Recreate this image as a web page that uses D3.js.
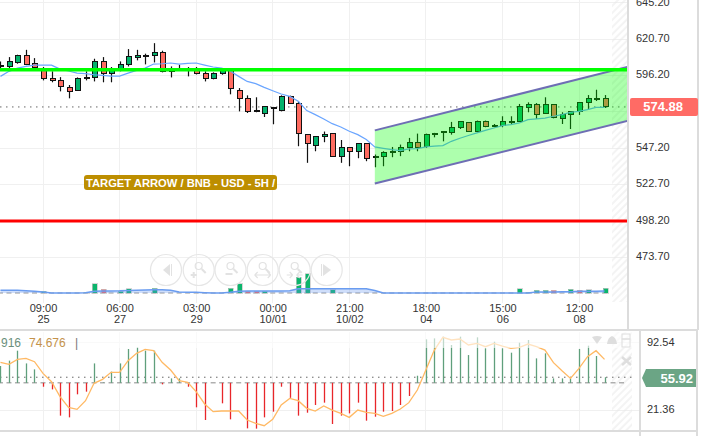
<!DOCTYPE html>
<html>
<head>
<meta charset="utf-8">
<script src="https://cdn.jsdelivr.net/npm/d3@7"></script>
<style>
html, body { margin: 0; padding: 0; background: #fff; }
svg { display: block; font-family: "Liberation Sans", Arial, sans-serif; }
.axis path, .axis line { display: none; }
.axis text { font-family: "Liberation Sans", Arial, sans-serif; font-size: 11px; fill: #333; }
</style>
</head>
<body>
<div id="chart"></div>
<script>
// 5h candles, index 0 is 09:00 on the 25th
const candleIndex = d3.range(-5, 67);
const opens = [602.2,602.2,604.9,609.4,604.5,600.9,594.4,593.0,588.3,586.1,594.2,595.0,605.8,597.1,600.9,603.6,608.5,609.2,609.6,611.9,598.9,600.7,600.7,600.9,597.7,594.2,597.1,599.5,586.1,580.9,571.5,570.8,574.6,572.8,582.0,577.5,556.0,549.0,554.7,556.7,541.7,547.3,544.6,549.9,540.8,541.2,543.9,544.6,547.3,550.6,547.9,556.5,557.4,557.8,561.2,564.1,558.5,565.4,562.1,562.5,565.4,564.8,574.6,576.2,570.6,576.2,567.2,569.5,571.9,578.2,580.7,580.9];
const closes = [602.7,605.8,609.4,603.6,601.8,594.2,592.8,588.8,585.4,594.4,595.0,605.8,597.1,600.9,603.8,609.2,609.9,609.9,611.9,598.9,599.5,601.1,601.1,597.5,594.2,597.1,599.5,587.4,580.7,571.9,572.4,574.9,573.5,581.8,577.3,556.7,549.9,554.7,556.0,541.7,547.3,544.6,549.9,540.3,541.2,543.9,545.0,547.3,550.6,547.7,556.5,557.1,558.0,561.2,564.8,558.0,565.4,561.8,562.7,565.4,564.1,574.9,576.4,569.9,576.4,568.1,569.5,571.5,578.2,580.9,580.9,574.88];
const highs = [605.6,608.5,610.1,613.4,607.8,601.8,598.9,595.0,589.7,594.8,598.9,607.4,608.5,601.8,605.6,613.9,613.4,610.8,617.9,612.8,602.2,603.3,601.8,601.8,598.9,598.2,600.4,600.4,587.6,582.7,581.4,574.9,574.9,582.7,582.5,578.7,556.4,554.7,558.3,556.9,552.6,547.3,549.9,550.2,542.8,545.0,547.9,549.5,554.0,556.9,556.9,557.4,558.0,564.8,564.8,564.1,565.7,565.7,563.4,568.6,568.6,576.9,578.0,577.5,581.4,576.4,571.3,571.9,578.2,582.9,586.5,582.9];
const lows = [600.4,599.5,604.0,603.1,601.1,592.8,591.5,585.4,580.7,586.1,592.8,592.1,591.5,591.5,598.9,602.2,606.3,603.6,604.9,598.2,594.8,600.0,595.5,596.8,592.1,593.5,596.6,583.4,571.9,570.8,571.3,568.1,563.2,571.9,576.9,548.4,537.2,545.0,551.1,541.2,537.2,534.9,540.3,538.3,534.2,534.9,541.0,541.7,545.0,545.0,547.3,554.4,551.7,556.2,560.0,558.0,557.8,561.2,561.2,561.2,563.0,564.8,571.3,566.8,570.6,567.2,563.4,560.0,569.5,573.1,578.9,574.2];
const priceMa = [595.5,598.9,601.1,602.2,603.1,603.1,603.1,600.4,599.1,597.7,597.3,596.6,596.2,595.7,595.7,597.7,599.5,601.1,603.8,604.0,604.5,603.8,604.2,604.5,603.1,601.8,601.1,599.1,595.5,592.1,590.6,588.1,585.8,583.6,582.0,578.7,572.4,569.7,566.8,563.6,561.4,558.5,556.2,552.9,547.9,547.0,546.1,545.5,546.6,546.8,547.9,548.4,548.8,551.7,553.8,555.6,557.4,559.1,560.7,562.3,563.0,564.1,566.3,566.8,567.4,568.6,569.7,571.3,571.9,573.1,574.6,574.6];
const volumes = [0,0,0,0,0,2,0,0,0,0,1,9.3,4,0,2,4.3,0,0,5,0,0,0,0,0,0,0,0,5,9.3,2,2,2,0,0,0,16,19.3,0,0,3.3,0,0,0,0,0,0,0,0,0,0,0,0,0,0,0,0,0,0,0,0,0,4.3,1,2.7,2.7,2.7,0,3.7,3,3.3,0,5];
const volumeMa = [2.7,2.7,2.7,2.3,1.7,1,0,0,0,0,0.3,1.7,2,2,2.2,2.6,2.8,3,3.3,3.3,2.7,1,0.7,0.7,0.3,0,0,0.7,1.7,2,2,2,2,2,2.2,4.3,4.3,4.3,4.3,4.3,4.3,4.3,4.3,4.3,2.5,0,0,0,0,0,0,0,0,0,0,0,0,0,0,0,0,0,0,1,1,1,1.3,1.3,1.7,1.7,1.7,2];
const volumeDown = [7, 24, 25, 60, 63];
const oscBars = [67.7,73.4,83.9,70.5,64.2,45.9,43.1,15.4,13.6,37.9,40.7,70.5,50.5,61.8,70.5,85.7,87.4,83.9,83.9,48.4,54.7,54.7,45.9,24.2,10.8,50,28.4,11.5,50,2.0,1.7,13.6,19.6,45.9,34.2,15.4,18.5,26.6,29.1,6.6,15.4,17.8,29.1,10.1,14.3,19.6,20.3,26.6,36.1,57.5,95.9,96.9,98.7,89.9,98.7,79.3,98,86.4,93.4,86.4,81.8,92.3,95.2,75.8,81.1,54.7,54.7,54.7,85.7,89.2,78.3,55.92];
const oscLine = [71.6,69.5,74.8,75.8,72.3,60,51.2,35.4,24.2,22,31.2,49.5,53.7,61.1,61.1,73.4,81.1,85.3,83.9,71.6,63.5,52.3,50.5,40.7,27.7,19.6,20.3,20.3,20.3,10.8,7.3,4.8,11.5,26.6,33.6,31.2,23.1,20.3,25.6,21.3,17.8,13.6,21.3,18.9,17.8,14.7,17.8,22.4,29.1,42.4,63.5,84.6,98,95.2,96.2,89.9,91.6,88.1,91.6,88.8,86.4,87.4,90.9,88.1,84.6,71.3,62.8,54.7,65.3,77.6,83.9,74.7];

const priceTicks = [645.2, 620.7, 596.2, 571.7, 547.2, 522.7, 498.2, 473.7];
const priceLabelled = [645.2, 620.7, 596.2, 547.2, 522.7, 498.2, 473.7];
const oscTicks = [92.54, 21.36];
const timeIndex = [0, 9, 18, 27, 36, 45, 54, 63];
const timeLabels = ['09:00', '06:00', '03:00', '00:00', '21:00', '18:00', '15:00', '12:00'];
const dateLabels = ['25', '27', '29', '10/01', '10/02', '04', '06', '08'];

const channelIdx = [39, 68.76];
const channelTop = [559.1, 602.0];
const channelBottom = [523.2, 565.6];
const greenLevel = 600.0;
const redLevel = 498.0;
const lastPrice = 574.88;
const lastOsc = 55.92;
const oscMid = 50;

const width = 706, height = 436;
const plotRight = 627, oscRight = 639;

const x = d3.scaleLinear().domain([0, 63]).range([43, 579]);
const y = d3.scaleLinear().domain([473.7, 620.7]).range([257, 39]);
const yVol = d3.scaleLinear().domain([0, 20]).range([293, 273]);
const yOsc = d3.scaleLinear().domain([21.36, 92.54]).range([410, 342.5]);

const svg = d3.select('#chart').append('svg').attr('width', width).attr('height', height);
const defs = svg.append('defs');

defs.append('clipPath').attr('id', 'clip-main')
    .append('rect').attr('x', 0).attr('y', 0).attr('width', plotRight).attr('height', 303);
defs.append('clipPath').attr('id', 'clip-osc')
    .append('rect').attr('x', 0).attr('y', 332).attr('width', oscRight).attr('height', 98);

const hatch = defs.append('pattern').attr('id', 'hatch').attr('patternUnits', 'userSpaceOnUse')
    .attr('width', 5).attr('height', 5).attr('patternTransform', 'rotate(-45)');
hatch.append('line').attr('x1', 0).attr('x2', 5).attr('y1', 2).attr('y2', 2)
    .attr('stroke', '#e8e8e8').attr('stroke-width', 1);

const main = svg.append('g').attr('clip-path', 'url(#clip-main)');
const osc = svg.append('g').attr('clip-path', 'url(#clip-osc)');

// grid
main.selectAll('.hgrid').data(priceTicks).enter().append('line')
    .attr('x1', 0).attr('x2', plotRight)
    .attr('y1', d => y(d)).attr('y2', d => y(d))
    .attr('stroke', '#f0f0f0').attr('shape-rendering', 'crispEdges');
main.selectAll('.vgrid').data(timeIndex).enter().append('line')
    .attr('x1', d => x(d)).attr('x2', d => x(d))
    .attr('y1', 0).attr('y2', 303)
    .attr('stroke', '#f0f0f0').attr('shape-rendering', 'crispEdges');
main.append('rect').attr('x', 612).attr('y', 0).attr('width', 15).attr('height', 302).attr('fill', 'url(#hatch)');

// nav buttons sit behind the marks
const navX = [166, 198.7, 230.5, 262.7, 294.7, 326.7];
const nav = svg.append('g');
nav.selectAll('circle').data(navX).enter().append('circle')
    .attr('cx', d => d).attr('cy', 270).attr('r', 15.5)
    .attr('fill', 'none').attr('stroke', '#e6e6e6').attr('stroke-width', 1.2);
const navColor = '#e2e2e2';
nav.append('path').attr('d', 'M162 264 L162 276 L169 270 Z').attr('transform', 'rotate(180 166 270)').attr('fill', navColor);
nav.append('rect').attr('x', 171).attr('y', 264).attr('width', 1).attr('height', 12).attr('fill', navColor);
nav.append('path').attr('d', 'M323 264 L323 276 L331 270 Z').attr('fill', navColor);
nav.append('rect').attr('x', 321).attr('y', 264).attr('width', 1).attr('height', 12).attr('fill', navColor);
[198.7, 230.5, 262.7, 294.7].forEach((cx, i) => {
    const g = nav.append('g').attr('transform', `translate(${cx},268)`);
    g.append('circle').attr('cx', 0).attr('cy', -2).attr('r', 3.5).attr('fill', 'none').attr('stroke', navColor).attr('stroke-width', 1.2);
    g.append('line').attr('x1', 3).attr('y1', 1).attr('x2', 7).attr('y2', 5).attr('stroke', navColor).attr('stroke-width', 2);
    if (i === 0) g.append('path').attr('d', 'M-8 7 H-2 M-5 4 V10').attr('stroke', navColor).attr('stroke-width', 2);
    if (i === 1) g.append('path').attr('d', 'M-5 6 H2').attr('stroke', navColor).attr('stroke-width', 2);
    if (i === 2) g.append('path').attr('d', 'M-8 7 H8 M-8 7 L-5 4 M-8 7 L-5 10 M8 7 L5 4 M8 7 L5 10').attr('stroke', navColor).attr('fill', 'none').attr('stroke-width', 1.2);
    if (i === 3) g.append('path').attr('d', 'M-8 7 H-2 M-2 7 L-5 4 M-2 7 L-5 10 M8 7 H2 M2 7 L5 4 M2 7 L5 10').attr('stroke', navColor).attr('fill', 'none').attr('stroke-width', 1.2);
});

// volume
main.selectAll('.vol-base').data(candleIndex).enter().append('line')
    .attr('x1', d => x(d) - 2.5).attr('x2', d => x(d) + 2.5)
    .attr('y1', 293).attr('y2', 293)
    .attr('stroke', '#b8b8b8').attr('stroke-width', 1.5);
main.selectAll('.vol').data(candleIndex.filter((d, i) => volumes[i] > 0)).enter().append('rect')
    .attr('x', d => Math.round(x(d)) - 2)
    .attr('y', d => yVol(volumes[d + 5]))
    .attr('width', 5)
    .attr('height', d => 293 - yVol(volumes[d + 5]))
    .attr('fill', d => volumeDown.includes(d) ? '#f0686a' : '#0bb56c')
    .attr('stroke', '#c4c4c4').attr('stroke-width', 1).attr('stroke-opacity', 0.7)
    .attr('shape-rendering', 'crispEdges');
const volArea = d3.area().x((d, i) => x(candleIndex[i])).y0(293).y1(d => yVol(d));
const volLine = d3.line().x((d, i) => x(candleIndex[i])).y(d => yVol(d));
main.append('path').datum(volumeMa).attr('d', volArea).attr('fill', '#5f93f0').attr('fill-opacity', 0.3);
main.append('path').datum(volumeMa).attr('d', volLine).attr('fill', 'none').attr('stroke', '#6a9cf0').attr('stroke-width', 1.5);

// last price dots
main.append('line').attr('x1', 0).attr('x2', plotRight).attr('y1', y(lastPrice)).attr('y2', y(lastPrice))
    .attr('stroke', '#666').attr('stroke-width', 1).attr('stroke-dasharray', '1.5 4.5');

// candles
const candles = main.selectAll('.candle').data(candleIndex).enter().append('g');
candles.append('line')
    .attr('x1', d => Math.round(x(d)) + 0.5).attr('x2', d => Math.round(x(d)) + 0.5)
    .attr('y1', d => y(highs[d + 5])).attr('y2', d => y(lows[d + 5]))
    .attr('stroke', '#111').attr('stroke-width', 1.2);
candles.append('rect')
    .attr('x', d => Math.round(x(d)) - 2)
    .attr('y', d => y(Math.max(opens[d + 5], closes[d + 5])))
    .attr('width', 5)
    .attr('height', d => Math.max(1, Math.abs(y(opens[d + 5]) - y(closes[d + 5]))))
    .attr('fill', d => closes[d + 5] >= opens[d + 5] ? '#03b26c' : '#ff6b60')
    .attr('stroke', '#111').attr('stroke-width', 1)
    .attr('shape-rendering', 'crispEdges');

const maLine = d3.line().x((d, i) => x(candleIndex[i])).y(d => y(d));
main.append('path').datum(priceMa).attr('d', maLine).attr('fill', 'none').attr('stroke', '#6aa5ff').attr('stroke-width', 1.2);

// channel
const chX = i => x(channelIdx[i]);
main.append('polygon')
    .attr('points', [[chX(0), y(channelTop[0])], [chX(1), y(channelTop[1])], [chX(1), y(channelBottom[1])], [chX(0), y(channelBottom[0])]].join(' '))
    .attr('fill', '#00ff00').attr('fill-opacity', 0.32);
[channelTop, channelBottom].forEach(c => {
    main.append('line').attr('x1', chX(0)).attr('x2', chX(1)).attr('y1', y(c[0])).attr('y2', y(c[1]))
        .attr('stroke', '#6e6eb4').attr('stroke-width', 2);
});

// levels
main.append('line').attr('x1', 0).attr('x2', plotRight).attr('y1', y(greenLevel)).attr('y2', y(greenLevel))
    .attr('stroke', '#00ff00').attr('stroke-width', 3.5);
main.append('line').attr('x1', 0).attr('x2', plotRight).attr('y1', y(redLevel)).attr('y2', y(redLevel))
    .attr('stroke', '#ff0000').attr('stroke-width', 3);

// label
svg.append('rect').attr('x', 84).attr('y', 175).attr('width', 193).attr('height', 15).attr('rx', 3).attr('fill', '#bd8e00');
svg.append('text').attr('x', 86).attr('y', 186.5)
    .attr('font-size', 11).attr('font-weight', 'bold').attr('fill', '#fff')
    .attr('textLength', 189).attr('lengthAdjust', 'spacingAndGlyphs')
    .text('TARGET ARROW / BNB - USD - 5H /');

// oscillator panel
osc.selectAll('.hgrid').data(oscTicks).enter().append('line')
    .attr('x1', 0).attr('x2', oscRight).attr('y1', d => yOsc(d)).attr('y2', d => yOsc(d))
    .attr('stroke', '#f0f0f0').attr('shape-rendering', 'crispEdges');
osc.selectAll('.vgrid').data(timeIndex).enter().append('line')
    .attr('x1', d => x(d)).attr('x2', d => x(d)).attr('y1', 332).attr('y2', 431)
    .attr('stroke', '#f0f0f0').attr('shape-rendering', 'crispEdges');
osc.append('rect').attr('x', 612).attr('y', 332).attr('width', 20).attr('height', 98).attr('fill', 'url(#hatch)');

// baseline dashes continue past the last candle
const baseDash = d3.range(-5, 69);
osc.selectAll('.base').data(baseDash).enter().append('line')
    .attr('x1', d => x(d) - 2.5).attr('x2', d => x(d) + 2.5)
    .attr('y1', yOsc(oscMid)).attr('y2', yOsc(oscMid))
    .attr('stroke', '#888').attr('stroke-width', 1);
osc.append('line').attr('x1', 0).attr('x2', 632).attr('y1', yOsc(lastOsc)).attr('y2', yOsc(lastOsc))
    .attr('stroke', '#666').attr('stroke-width', 1).attr('stroke-dasharray', '1.5 4.5');
osc.selectAll('.bar').data(candleIndex).enter().append('line')
    .attr('x1', d => Math.round(x(d)) + 0.5).attr('x2', d => Math.round(x(d)) + 0.5)
    .attr('y1', yOsc(oscMid))
    .attr('y2', d => yOsc(oscBars[d + 5]))
    .attr('stroke', d => oscBars[d + 5] >= oscMid ? '#5f9f7c' : '#e8262a')
    .attr('stroke-width', 1.3);
const oscPath = d3.line().x((d, i) => x(candleIndex[i])).y(d => yOsc(d));
osc.append('path').datum(oscLine).attr('d', oscPath).attr('fill', 'none').attr('stroke', '#ffb964').attr('stroke-width', 1.3);
osc.append('rect').attr('x', 0).attr('y', 332).attr('width', oscRight).attr('height', 16).attr('fill', '#fff').attr('fill-opacity', 0.6);

svg.append('text').attr('x', 1).attr('y', 347).attr('font-size', 12).attr('fill', '#6b8f7c').text('916');
svg.append('text').attr('x', 29).attr('y', 347).attr('font-size', 12).attr('fill', '#c4924a').text('74.676');
svg.append('text').attr('x', 75).attr('y', 347).attr('font-size', 12).attr('fill', '#777').text('|');

// small panel icons
const iconColor = '#dedede';
svg.append('path').attr('d', 'M592 337 Q597 335 602 337 L597 344 Z').attr('fill', iconColor);
svg.append('path').attr('d', 'M607 344 Q608 337 612 336 Q616 337 617 344 Z').attr('fill', iconColor);
svg.append('rect').attr('x', 622).attr('y', 339).attr('width', 8).attr('height', 8).attr('fill', 'none').attr('stroke', iconColor).attr('stroke-width', 1);
svg.append('rect').attr('x', 622).attr('y', 334).attr('width', 8).attr('height', 5).attr('fill', 'none').attr('stroke', iconColor).attr('stroke-width', 1);
svg.append('path').attr('d', 'M622 357 L631 365 M631 357 L622 365').attr('stroke', iconColor).attr('stroke-width', 2.5);

// panel borders
const borderColor = '#dcdcdc';
const border = svg.append('g').attr('stroke', borderColor).attr('stroke-width', 2).attr('shape-rendering', 'crispEdges');
border.append('line').attr('x1', 627.5).attr('x2', 627.5).attr('y1', 0).attr('y2', 330);
border.append('line').attr('x1', 698).attr('x2', 698).attr('y1', 0).attr('y2', 330);
border.append('line').attr('x1', 0).attr('x2', 698).attr('y1', 330).attr('y2', 330);
border.append('line').attr('x1', 0).attr('x2', 698).attr('y1', 431).attr('y2', 431);
border.append('line').attr('x1', 640).attr('x2', 640).attr('y1', 330).attr('y2', 436);
border.append('line').attr('x1', 697).attr('x2', 697).attr('y1', 330).attr('y2', 436);

// axes
const priceAxis = d3.axisRight(y).tickValues(priceLabelled).tickSize(0).tickPadding(0).tickFormat(d3.format('.2f'));
svg.append('g').attr('class', 'axis').attr('transform', 'translate(636,-1)').call(priceAxis);

const oscAxis = d3.axisRight(yOsc).tickValues(oscTicks).tickSize(0).tickPadding(0).tickFormat(d3.format('.2f'));
svg.append('g').attr('class', 'axis').attr('transform', 'translate(647,-1)').call(oscAxis);

const timeAxis = d3.axisBottom(x).tickValues(timeIndex).tickSize(0).tickPadding(0).tickFormat((d, i) => timeLabels[i]);
const timeG = svg.append('g').attr('class', 'axis').attr('transform', 'translate(0,304)').call(timeAxis);
timeG.selectAll('.tick').append('text')
    .attr('y', 11).attr('dy', '0.71em').attr('fill', '#333')
    .text((d, i) => dateLabels[i]);

// price tags
svg.append('rect').attr('x', 630).attr('y', 98).attr('width', 68).attr('height', 18).attr('rx', 2).attr('fill', '#ff6b65');
svg.append('text').attr('x', 683).attr('y', 111).attr('text-anchor', 'end')
    .attr('font-size', 13).attr('font-weight', 'bold').attr('fill', '#fff').text(lastPrice.toFixed(2));
svg.append('path').attr('d', 'M642 378 L646 369 H696 V387 H646 Z').attr('fill', '#6ba585');
svg.append('text').attr('x', 693).attr('y', 383).attr('text-anchor', 'end')
    .attr('font-size', 13).attr('font-weight', 'bold').attr('fill', '#fff').text(lastOsc.toFixed(2));
</script>
</body>
</html>
